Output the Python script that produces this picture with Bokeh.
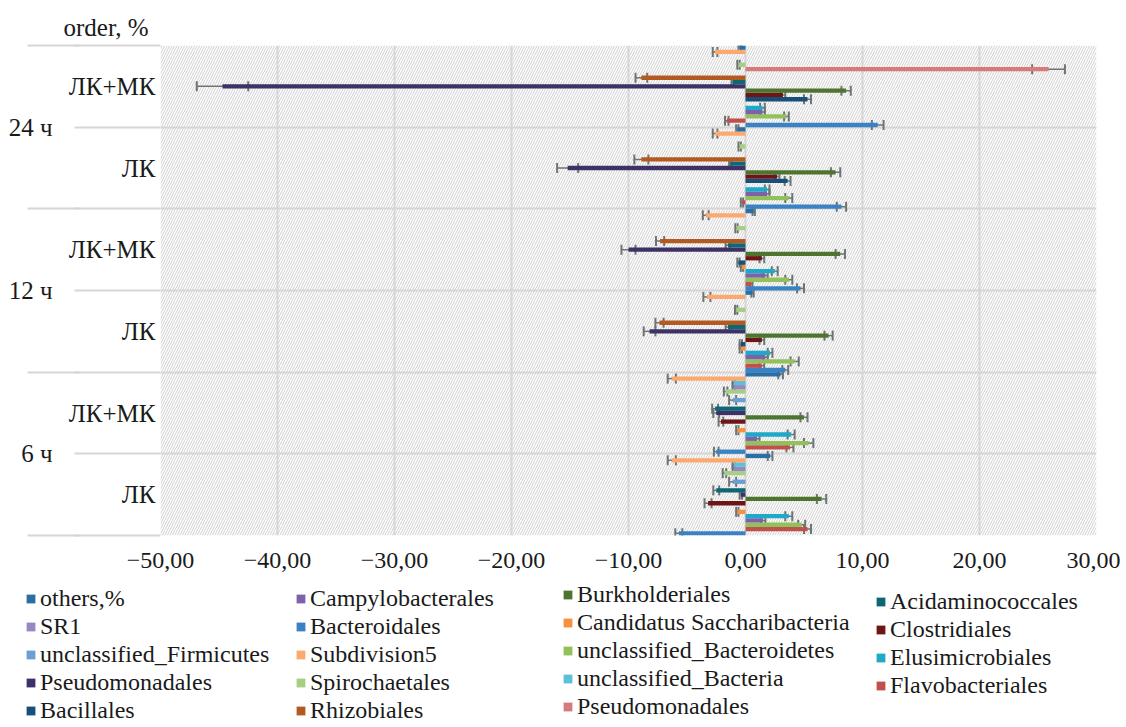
from bokeh.plotting import figure
from bokeh.models import (Range1d, FixedTicker, LinearAxis, ColumnDataSource, Whisker,
                          TeeHead, Legend, LegendItem, Grid, BoxAnnotation)
from bokeh.embed import file_html
from bokeh.resources import INLINE

# ---------------- data ----------------
groups = ["6 ч", "12 ч", "24 ч"]
conditions = ["ЛК", "ЛК+МК"]
# category order bottom -> top: 6ч ЛК, 6ч ЛК+МК, 12ч ЛК, 12ч ЛК+МК, 24ч ЛК, 24ч ЛК+МК

# series in plotting order (bottom -> top inside each category band)
series_names = [
    "Bacteroidales", "Flavobacteriales", "unclassified_Bacteroidetes", "Campylobacterales",
    "Elusimicrobiales", "Candidatus Saccharibacteria", "Bacillales", "Clostridiales",
    "Burkholderiales", "Pseudomonadales", "Acidaminococcales", "Rhizobiales",
    "unclassified_Firmicutes", "Pseudomonadales", "Spirochaetales", "SR1",
    "unclassified_Bacteria", "Subdivision5", "others,%",
]
series_colors = [
    "#3a82c4", "#c0504d", "#92c05a", "#7d62ab",
    "#1ea9c8", "#f7913f", "#184f78", "#6e1616",
    "#4e7530", "#3d3165", "#0f6675", "#b25a21",
    "#6a9fd3", "#d67a7c", "#a8cd84", "#9787c2",
    "#5ac1d8", "#fba96e", "#2a6ea6",
]
values = [
    [-5.7, -2.5, 3.4, 4.7, 8.2, 11.3],      # Bacteroidales
    [5.3, 3.8, 1.4, 0.5, -0.3, -1.6],       # Flavobacteriales
    [4.8, 5.4, 4.2, 3.7, 3.7, 3.5],         # unclassified_Bacteroidetes
    [1.5, 1.0, 1.7, 1.7, 1.85, 1.45],       # Campylobacterales
    [3.7, 3.9, 2.1, 2.5, 1.85, 1.45],       # Elusimicrobiales
    [-0.7, -0.7, -0.4, -0.3, 0.0, 0.0],     # Candidatus Saccharibacteria
    [0.0, 0.0, -0.4, -0.6, 3.6, 5.3],       # Bacillales
    [-3.2, -2.1, 1.4, 1.4, 2.7, 3.2],       # Clostridiales
    [6.5, 5.0, 7.1, 8.1, 7.7, 8.6],         # Burkholderiales
    [-0.4, -2.5, -8.2, -10.0, -15.2, -44.7],  # Pseudomonadales
    [-2.5, -2.6, -1.5, -1.5, -1.3, -1.1],   # Acidaminococcales
    [0.0, 0.0, -7.35, -7.3, -8.9, -8.9],    # Rhizobiales
    [-1.1, -1.1, 0.0, 0.0, 0.0, 0.0],       # unclassified_Firmicutes
    [0.0, 0.0, 0.0, 0.0, 0.0, 25.9],        # Pseudomonadales (2)
    [-1.8, -1.7, -0.8, -0.77, -0.5, -0.6],  # Spirochaetales
    [-1.0, -1.0, 0.0, 0.0, 0.0, 0.0],       # SR1
    [-1.0, -1.0, 0.0, 0.0, 0.0, 0.0],       # unclassified_Bacteria
    [-6.3, -6.3, -3.3, -3.4, -2.6, -2.6],   # Subdivision5
    [2.1, 3.0, 0.6, 0.7, -0.7, -0.5],       # others,%
]
errors = [
    [0.3, 0.2, 0.25, 0.3, 0.4, 0.5],
    [0.3, 0.3, 0.2, 0.1, 0.1, 0.15],
    [0.3, 0.4, 0.35, 0.3, 0.3, 0.2],
    [0.2, 0.2, 0.2, 0.2, 0.2, 0.2],
    [0.3, 0.3, 0.2, 0.25, 0.2, 0.2],
    [0.1, 0.1, 0.1, 0.1, 0.0, 0.0],
    [0.0, 0.0, 0.1, 0.1, 0.25, 0.3],
    [0.3, 0.2, 0.2, 0.2, 0.2, 0.2],
    [0.4, 0.3, 0.35, 0.4, 0.4, 0.4],
    [0.1, 0.25, 0.5, 0.6, 0.9, 2.2],
    [0.25, 0.25, 0.2, 0.2, 0.1, 0.1],
    [0.0, 0.0, 0.35, 0.35, 0.6, 0.5],
    [0.3, 0.3, 0.0, 0.0, 0.0, 0.0],
    [0.0, 0.0, 0.0, 0.0, 0.0, 1.4],
    [0.15, 0.15, 0.1, 0.1, 0.1, 0.1],
    [0.1, 0.1, 0.0, 0.0, 0.0, 0.0],
    [0.1, 0.1, 0.0, 0.0, 0.0, 0.0],
    [0.35, 0.35, 0.3, 0.25, 0.2, 0.2],
    [0.2, 0.2, 0.1, 0.1, 0.1, 0.1],
]
# legend layout (columns, as in the reference)
legend_columns = [
    [18, 15, 12, 9, 6],
    [3, 0, 17, 14, 11],
    [8, 5, 2, 16, 13],
    [10, 7, 4, 1],
]
x_ticks = [-50, -40, -30, -20, -10, 0, 10, 20, 30]
x_tick_labels = ["−50,00", "−40,00", "−30,00", "−20,00", "−10,00", "0,00", "10,00", "20,00", "30,00"]
y_title = "order, %"

# ---------------- main figure ----------------
FONT = "Liberation Serif"
GRID = "#d6d6d6"
TXT = "#1a1a1a"
n_cat = len(groups) * len(conditions)
n_ser = len(series_names)
bar_h = 1.0 / n_ser

p = figure(width=1120, height=580, x_range=Range1d(-50, 30), y_range=Range1d(0, n_cat),
           output_backend="svg", toolbar_location=None, y_axis_location=None,
           min_border_left=160, min_border_right=24, min_border_top=45, min_border_bottom=45)
p.outline_line_color = None
p.background_fill_color = "white"
p.border_fill_color = "white"

# hatched plot area
p.add_layout(BoxAnnotation(fill_color="white", fill_alpha=1.0, line_color=None,
                           hatch_pattern="/", hatch_color="#cfcfcf", hatch_scale=5,
                           hatch_weight=1.0, level="image"))

# grids
p.xgrid.ticker = FixedTicker(ticks=x_ticks)
p.xgrid.grid_line_color = GRID
p.xgrid.grid_line_width = 2
p.ygrid.visible = False
cat_bounds = list(range(n_cat + 1))
p.add_layout(Grid(dimension=1, ticker=FixedTicker(ticks=cat_bounds),
                  grid_line_color=GRID, grid_line_width=2))

# x axis
xa = p.xaxis[0]
xa.ticker = FixedTicker(ticks=x_ticks)
xa.major_label_overrides = dict(zip(x_ticks, x_tick_labels))
xa.axis_line_color = None
xa.major_tick_line_color = None
xa.minor_tick_line_color = None
xa.major_tick_out = 0
xa.major_label_standoff = 17
xa.major_label_text_font = FONT
xa.major_label_text_font_size = "24px"
xa.major_label_text_color = TXT

# inner y axis: conditions (minor ticks draw the separator lines)
cond_ticks = [i + 0.5 for i in range(n_cat)]
cond_labels = [conditions[i % 2] for i in range(n_cat)]
ax1 = LinearAxis(ticker=FixedTicker(ticks=cond_ticks, minor_ticks=cat_bounds),
                 major_label_overrides=dict(zip(cond_ticks, cond_labels)),
                 axis_line_color=None, major_tick_line_color=None,
                 major_tick_out=0, major_tick_in=0,
                 minor_tick_out=86, minor_tick_in=0,
                 minor_tick_line_color=GRID, minor_tick_line_width=2,
                 major_label_standoff=-81, major_label_text_font=FONT,
                 major_label_text_font_size="25px", major_label_text_color=TXT)
p.add_layout(ax1, "left")

# outer y axis: time groups
grp_ticks = [2 * i + 1 for i in range(len(groups))]
grp_bounds = [2 * i for i in range(len(groups) + 1)]
ax2 = LinearAxis(ticker=FixedTicker(ticks=grp_ticks, minor_ticks=grp_bounds),
                 major_label_overrides=dict(zip(grp_ticks, groups)),
                 axis_line_color=None, major_tick_line_color=None,
                 major_tick_out=0, major_tick_in=0,
                 minor_tick_out=38, minor_tick_in=14,
                 minor_tick_line_color=GRID, minor_tick_line_width=2,
                 major_label_standoff=-25, major_label_text_font=FONT,
                 major_label_text_font_size="25px", major_label_text_color=TXT)
p.add_layout(ax2, "left")

# title
p.title.text = y_title
p.title.align = "left"
p.title.offset = -97
p.title.standoff = 9
p.title.text_font = FONT
p.title.text_font_size = "25px"
p.title.text_font_style = "normal"
p.title.text_color = TXT

# bars + error bars
bar_sources = []
for k in range(n_ser):
    ys = [c + (k + 0.5) * bar_h for c in range(n_cat)]
    src = ColumnDataSource(dict(y=ys, v=values[k]))
    bar_sources.append(src)
    p.hbar(y="y", left=0, right="v", height=bar_h, source=src,
           fill_color=series_colors[k], line_color=None)
ERR = "#6c7474"
for k in range(n_ser):
    ys, lo, hi = [], [], []
    for c in range(n_cat):
        if values[k][c] != 0 and errors[k][c] > 0:
            ys.append(c + (k + 0.5) * bar_h)
            lo.append(values[k][c] - errors[k][c])
            hi.append(values[k][c] + errors[k][c])
    if ys:
        esrc = ColumnDataSource(dict(y=ys, lo=lo, hi=hi))
        p.add_layout(Whisker(source=esrc, base="y", lower="lo", upper="hi", dimension="width",
                             line_color=ERR, line_width=1.5,
                             upper_head=TeeHead(size=10, line_color=ERR, line_width=2),
                             lower_head=TeeHead(size=10, line_color=ERR, line_width=2)))

# ---------------- legend figure (same bar data, off-range, only legends visible) ----------------
LEG_W, LEG_H = 1126, 145
p2 = figure(width=LEG_W, height=LEG_H, x_range=Range1d(-50, 30), y_range=Range1d(100, 101),
            output_backend="svg", toolbar_location=None,
            x_axis_location=None, y_axis_location=None, min_border=0)
p2.outline_line_color = None
p2.xgrid.visible = False
p2.ygrid.visible = False
leg_renderers = []
for k in range(n_ser):
    leg_renderers.append(p2.hbar(y="y", left=0, right="v", height=bar_h, source=bar_sources[k],
                                 fill_color=series_colors[k], line_color=None))

col_x = [25, 295, 562, 875]
col_top = [5, 5, 1, 8]
item_h = 27
gap = 1
for ci, col in enumerate(legend_columns):
    items = [LegendItem(label=series_names[k], renderers=[leg_renderers[k]]) for k in col]
    lh = len(col) * item_h + (len(col) - 1) * gap
    lg = Legend(items=items, location=(col_x[ci], LEG_H - col_top[ci] - lh),
                orientation="vertical", padding=0, margin=0, spacing=gap,
                glyph_width=11, glyph_height=11, label_standoff=4,
                label_text_font=FONT, label_text_font_size="24px",
                label_text_color=TXT, border_line_color=None, background_fill_alpha=0)
    p2.add_layout(lg, "center")

open("out.html", "w").write(file_html([p, p2], INLINE))
